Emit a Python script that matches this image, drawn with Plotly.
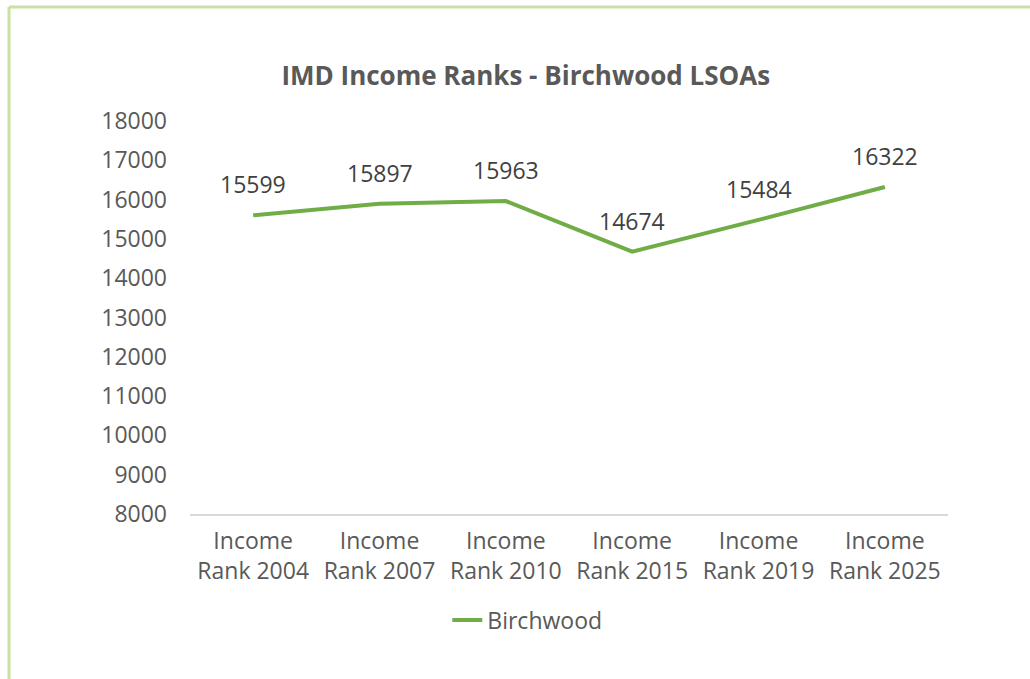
import plotly.graph_objects as go

# IMD income rank for the Birchwood LSOAs across releases
categories = ["Income<br>Rank 2004", "Income<br>Rank 2007", "Income<br>Rank 2010",
              "Income<br>Rank 2015", "Income<br>Rank 2019", "Income<br>Rank 2025"]
birchwood = [15599, 15897, 15963, 14674, 15484, 16322]
y_ticks = list(range(8000, 18001, 1000))

GREEN = "#70ad47"
GREY = "#595959"
FONT = "Open Sans"

fig = go.Figure()
fig.add_trace(go.Scatter(
    x=categories, y=birchwood, mode="lines", name="Birchwood",
    line=dict(color=GREEN, width=4),
))

# value labels above each point
for c, v in zip(categories, birchwood):
    fig.add_annotation(x=c, y=v, text=str(v), showarrow=False, yshift=31,
                       font=dict(family=FONT, size=23, color="#404040"))

# light green frame around the chart
frame = dict(type="line", xref="paper", yref="paper",
             line=dict(color="#c9e2a3", width=3))
fig.add_shape(**frame, x0=-0.2388, x1=1.2, y0=1.29, y1=1.29)
fig.add_shape(**frame, x0=-0.2388, x1=-0.2388, y0=1.29, y1=-0.5)

fig.update_layout(
    width=1030, height=679,
    margin=dict(l=190, r=82, t=121, b=165),
    paper_bgcolor="white", plot_bgcolor="white",
    title=dict(text="<b>IMD Income Ranks - Birchwood LSOAs</b>",
               x=0.443, xref="paper", xanchor="center",
               y=1 - 76 / 679, yanchor="middle",
               font=dict(family=FONT, size=26, color=GREY)),
    showlegend=True,
    legend=dict(orientation="h", x=0.445, xanchor="center", y=-0.27, yanchor="middle",
                font=dict(family=FONT, size=23, color=GREY)),
    xaxis=dict(range=[-0.5, 5.5], showline=True, linecolor="#d9d9d9", linewidth=2,
               showgrid=False, ticks="", ticklabelstandoff=5,
               tickfont=dict(family=FONT, size=23, color=GREY)),
    yaxis=dict(range=[8000, 18000], tickvals=y_ticks, ticktext=[str(t) for t in y_ticks],
               showgrid=False, showline=False, zeroline=False, ticks="",
               ticklabelstandoff=22,
               tickfont=dict(family=FONT, size=23, color=GREY)),
)

fig.write_html("out.html")
